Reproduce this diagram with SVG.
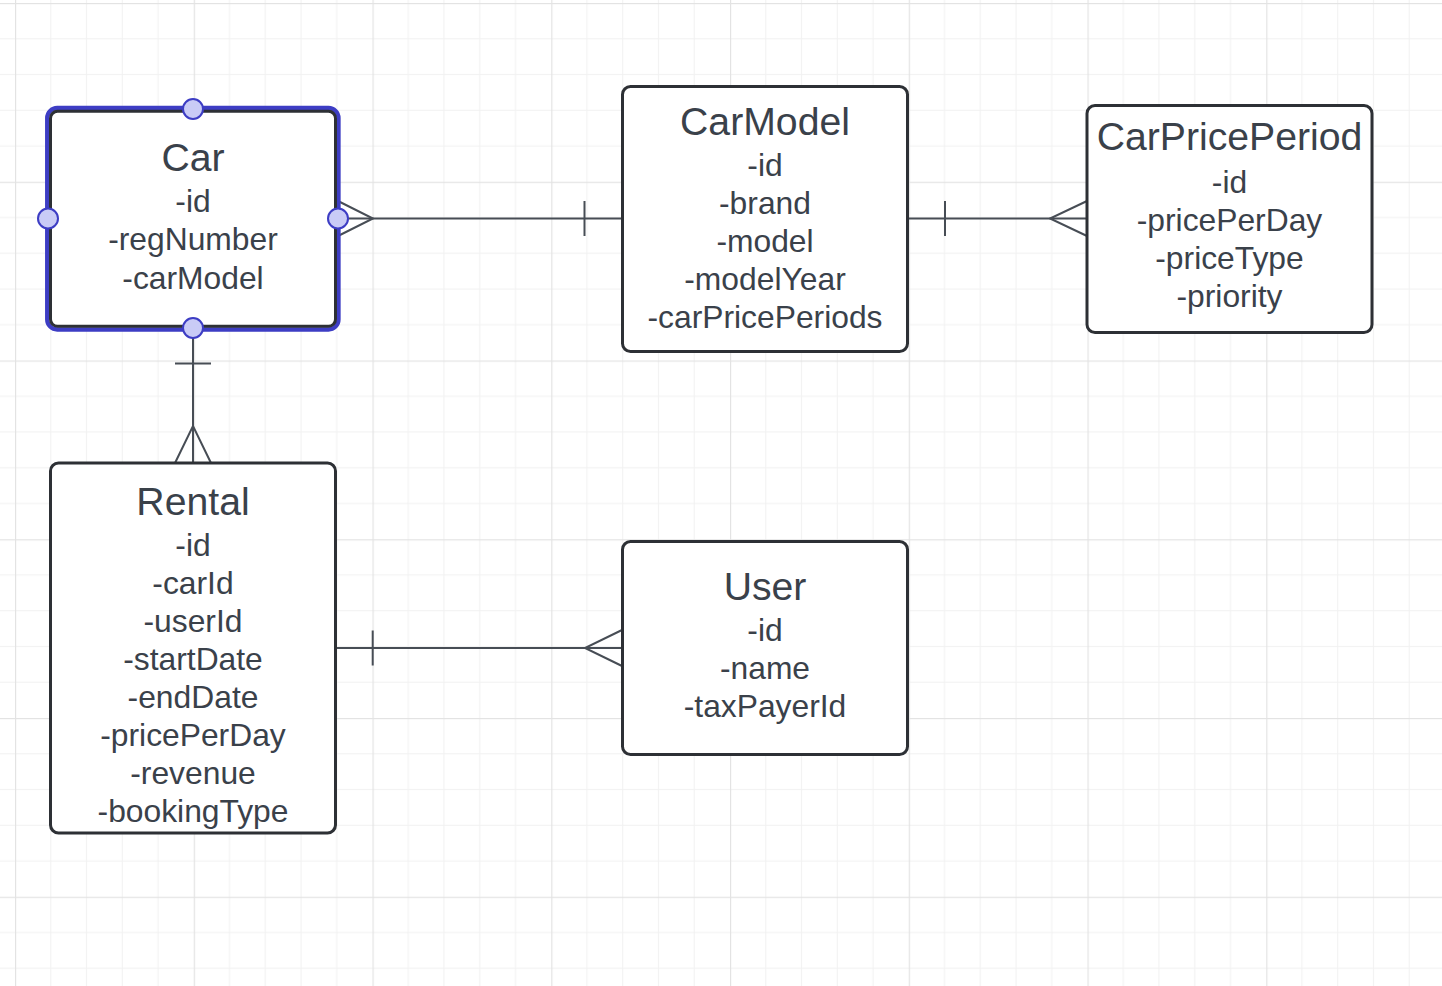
<svg xmlns="http://www.w3.org/2000/svg" width="1442" height="986" viewBox="0 0 1442 986">
<defs>
<pattern id="grid" patternUnits="userSpaceOnUse" x="15" y="3" width="178.75" height="178.75">
<rect x="35.25" y="0" width="1" height="178.75" fill="#f1f1f1"/>
<rect x="71" y="0" width="1" height="178.75" fill="#f1f1f1"/>
<rect x="106.75" y="0" width="1" height="178.75" fill="#f1f1f1"/>
<rect x="142.5" y="0" width="1" height="178.75" fill="#f1f1f1"/>
<rect x="0" y="35.25" width="178.75" height="1" fill="#f1f1f1"/>
<rect x="0" y="71" width="178.75" height="1" fill="#f1f1f1"/>
<rect x="0" y="106.75" width="178.75" height="1" fill="#f1f1f1"/>
<rect x="0" y="142.5" width="178.75" height="1" fill="#f1f1f1"/>
<rect x="0" y="0" width="1.2" height="178.75" fill="#e3e3e3"/>
<rect x="0" y="0" width="178.75" height="1.2" fill="#e3e3e3"/>
</pattern>
</defs>
<style>
.box{fill:#ffffff;stroke:#2d3035;stroke-width:3}
.title{font-family:"Liberation Sans",Arial,sans-serif;font-size:39.2px;fill:#3a414a;text-anchor:middle}
.attr{font-family:"Liberation Sans",Arial,sans-serif;font-size:31.8px;fill:#3a414a;text-anchor:middle}
.conn{fill:none;stroke:#474d55;stroke-width:2}
.sel{fill:none;stroke:#3d3dc4;stroke-width:4.3}
.handle{fill:#c9cbf6;stroke:#3d3dc4;stroke-width:2}
</style>
<rect x="0" y="0" width="1442" height="986" fill="#ffffff"/>
<rect x="0" y="0" width="1442" height="986" fill="url(#grid)"/>

<g id="connectors">
<path class="conn" d="M338 218.5 H622"/>
<path class="conn" d="M338 201 L373 218.5 L338 236"/>
<path class="conn" d="M584.5 201 V236"/>
<path class="conn" d="M907 218.5 H1087"/>
<path class="conn" d="M945 201 V236"/>
<path class="conn" d="M1087 201 L1050 218.5 L1087 236"/>
<path class="conn" d="M193 328 V463"/>
<path class="conn" d="M175 363.5 H211"/>
<path class="conn" d="M175 463 L193 426 L211 463"/>
<path class="conn" d="M336 648 H622"/>
<path class="conn" d="M372.7 630.5 V665.5"/>
<path class="conn" d="M622 630 L585 648 L622 666"/>
</g>

<g id="car">
<rect class="sel" x="47.2" y="108" width="291.3" height="221.5" rx="10"/>
<rect class="box" x="50.5" y="111.3" width="285" height="215" rx="7"/>
<text class="title" x="193" y="171">Car</text>
<text class="attr" x="193" y="212">-id</text>
<text class="attr" x="193" y="250">-regNumber</text>
<text class="attr" x="193" y="288.5">-carModel</text>
<circle class="handle" cx="193" cy="109" r="10"/>
<circle class="handle" cx="48" cy="218.5" r="10"/>
<circle class="handle" cx="338" cy="218.5" r="10"/>
<circle class="handle" cx="193" cy="328" r="10"/>
</g>

<g id="carmodel">
<rect class="box" x="622.5" y="86.5" width="285" height="265" rx="8"/>
<text class="title" x="765" y="135">CarModel</text>
<text class="attr" x="765" y="176">-id</text>
<text class="attr" x="765" y="214">-brand</text>
<text class="attr" x="765" y="252">-model</text>
<text class="attr" x="765" y="290">-modelYear</text>
<text class="attr" x="765" y="328">-carPricePeriods</text>
</g>

<g id="carpriceperiod">
<rect class="box" x="1087" y="105.5" width="285" height="227" rx="8"/>
<text class="title" x="1229.5" y="150">CarPricePeriod</text>
<text class="attr" x="1229.5" y="192.5">-id</text>
<text class="attr" x="1229.5" y="230.5">-pricePerDay</text>
<text class="attr" x="1229.5" y="268.5">-priceType</text>
<text class="attr" x="1229.5" y="306.5">-priority</text>
</g>

<g id="rental">
<rect class="box" x="50.5" y="463" width="285" height="370" rx="8"/>
<text class="title" x="193" y="514.5">Rental</text>
<text class="attr" x="193" y="555.5">-id</text>
<text class="attr" x="193" y="593.5">-carId</text>
<text class="attr" x="193" y="631.5">-userId</text>
<text class="attr" x="193" y="669.5">-startDate</text>
<text class="attr" x="193" y="707.5">-endDate</text>
<text class="attr" x="193" y="746">-pricePerDay</text>
<text class="attr" x="193" y="784">-revenue</text>
<text class="attr" x="193" y="822">-bookingType</text>
</g>

<g id="user">
<rect class="box" x="622.5" y="541.5" width="285" height="213" rx="8"/>
<text class="title" x="765" y="599.5">User</text>
<text class="attr" x="765" y="641">-id</text>
<text class="attr" x="765" y="679">-name</text>
<text class="attr" x="765" y="717">-taxPayerId</text>
</g>
</svg>
